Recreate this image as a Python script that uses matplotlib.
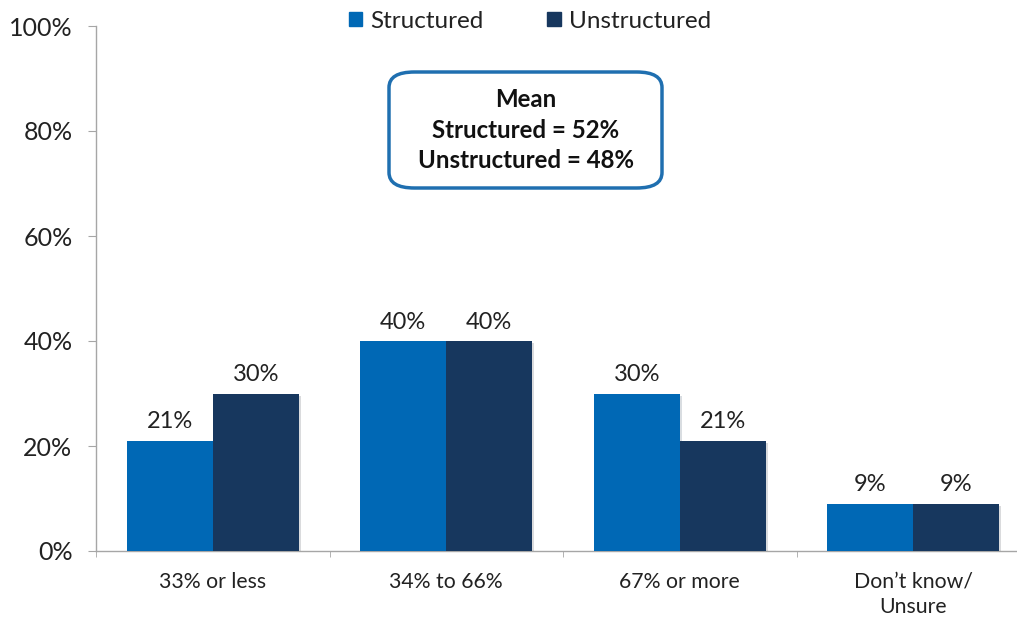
import matplotlib
matplotlib.use("Agg")
import matplotlib.pyplot as plt
import matplotlib.patheffects as pe
from matplotlib.patches import FancyBboxPatch, Patch
import numpy as np

categories = ["33% or less", "34% to 66%", "67% or more", "Don\u2019t know/\nUnsure"]
structured = [21, 40, 30, 9]
unstructured = [30, 40, 21, 9]
series_names = ["Structured", "Unstructured"]
yticks = [0, 20, 40, 60, 80, 100]
mean_text = "Mean\nStructured = 52%\nUnstructured = 48%"

c_struct = "#0068B5"
c_unstr = "#17375E"
grey = "#A6A6A6"

plt.rcParams['font.family'] = ['Lato', 'DejaVu Sans']

W, H = 1017, 619
fig = plt.figure(figsize=(W / 100, H / 100), dpi=100)
left, right, bottom, top = 96, 1030, 551, 26
ax = fig.add_axes([left / W, 1 - bottom / H, (right - left) / W, (bottom - top) / H])

x = np.arange(len(categories))
bw = 0.368
shadow = [pe.SimplePatchShadow(offset=(1.5, -1.5), alpha=0.15), pe.Normal()]
b1 = ax.bar(x - bw / 2, structured, bw, color=c_struct, zorder=3)
b2 = ax.bar(x + bw / 2, unstructured, bw, color=c_unstr, zorder=3)
for bars in (b1, b2):
    for p in bars:
        p.set_path_effects(shadow)
    ax.bar_label(bars, labels=[f"{v:.0f}%" for v in bars.datavalues], padding=6,
                 fontsize=17, color="#222222")

ax.set_xlim(-0.5, len(categories) - 0.5)
ax.set_ylim(0, 100)
ax.set_yticks(yticks)
ax.set_yticklabels([f"{v}%" for v in yticks], fontsize=18, color="#222222")
ax.set_xticks(x)
ax.set_xticklabels(categories, fontsize=15.3, color="#222222", linespacing=1.3)
ax.tick_params(axis='x', length=0, pad=15)
ax.set_xticks(np.arange(-0.5, len(categories) + 0.5, 1), minor=True)
ax.tick_params(axis='x', which='minor', length=4, color=grey, direction='out')
ax.tick_params(axis='y', length=6, color=grey, pad=11)

for s in ('top', 'right'):
    ax.spines[s].set_visible(False)
for s in ('left', 'bottom'):
    ax.spines[s].set_color(grey)
    ax.spines[s].set_linewidth(1)

handles = [Patch(color=c_struct), Patch(color=c_unstr)]
leg = fig.legend(handles=handles, labels=series_names, loc='center', ncol=2,
                 bbox_to_anchor=(530 / W, 1 - 21 / H), frameon=False, fontsize=17.5,
                 handlelength=0.55, handleheight=0.55, handletextpad=0.35, columnspacing=2.6)
for t in leg.get_texts():
    t.set_color("#222222")

# Mean box
bx0, by0, bx1, by1 = 389, 72, 662, 188
box = FancyBboxPatch((bx0 / W, 1 - by1 / H), (bx1 - bx0) / W, (by1 - by0) / H,
                     boxstyle="round,pad=0,rounding_size=0.025", transform=fig.transFigure,
                     facecolor="white", edgecolor="#1F6FB0", linewidth=2.5, zorder=5)
fig.add_artist(box)
fig.text((bx0 + bx1) / 2 / W, 1 - (by0 + by1) / 2 / H, mean_text, ha='center', va='center',
         fontsize=17.3, fontweight='bold', color="#111111", linespacing=1.42, zorder=6)

fig.savefig("out.png", dpi=100)
